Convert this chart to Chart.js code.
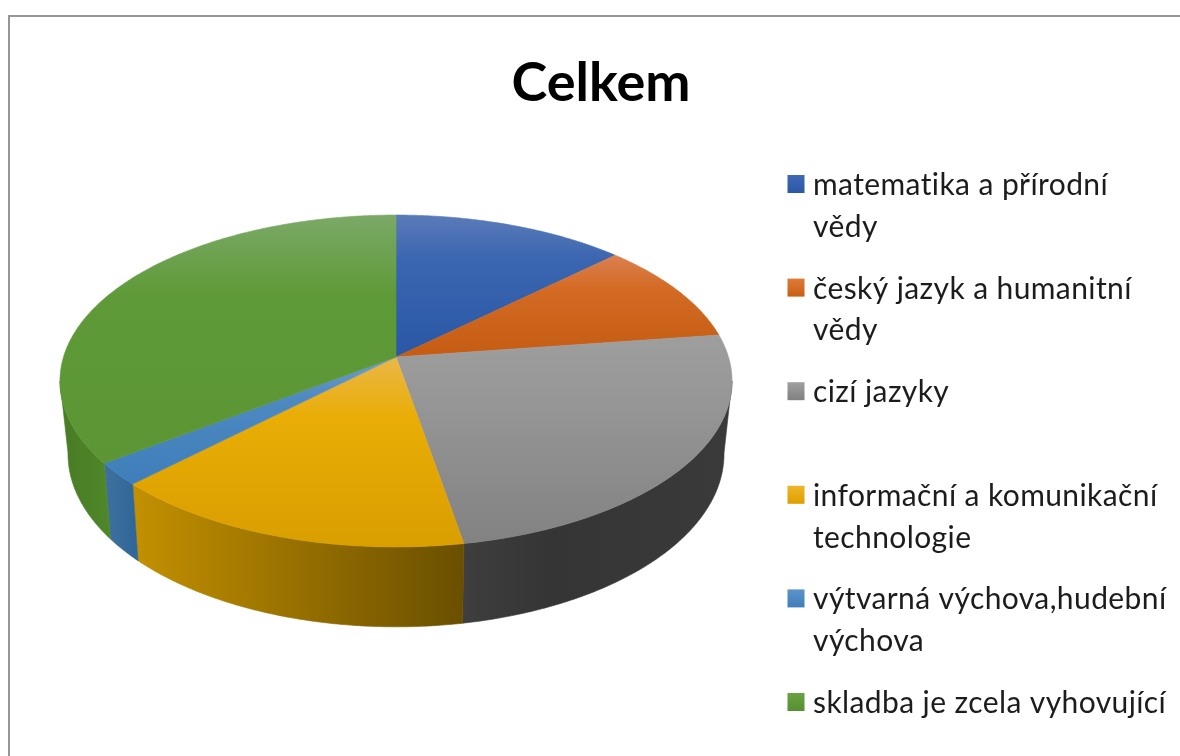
<!DOCTYPE html>
<html lang="cs">
<head>
<meta charset="utf-8">
<title>Celkem</title>
<script src="https://cdn.jsdelivr.net/npm/chart.js@4"></script>
<style>
html,body{margin:0;padding:0;background:#fff;width:1180px;height:756px;overflow:hidden}
#frame{position:absolute;left:8px;top:15px;width:1182px;height:760px;border-left:2px solid #969696;border-top:2px solid #969696;filter:blur(0.55px)}
canvas{display:block}
</style>
</head>
<body>
<div id="frame"><canvas id="c" width="1182" height="760"></canvas></div>
<script>
const titleText = "Celkem";
const categories = [
  ["matematika a přírodní", "vědy"],
  ["český jazyk a humanitní", "vědy"],
  ["cizí jazyky", ""],
  ["informační a komunikační", "technologie"],
  ["výtvarná výchova,hudební", "výchova"],
  ["skladba je zcela vyhovující"]
];
const values = [12.9, 9.9, 24.4, 15.4, 2.2, 35.2];
const topStops = [
  ["#5a7bb8", "#3a65b0", "#2a58a6"],
  ["#da8050", "#d46b25", "#c55c12"],
  ["#9e9e9e", "#969696", "#828282"],
  ["#ebb748", "#e9ad06", "#d99e00"],
  ["#6f9fcb", "#4e89c1", "#3e7eba"],
  ["#7ba967", "#5f9a38", "#5b9534"]
];
const wallStops = [
  ["#2a58a6", "#2a58a6"],
  ["#c55c12", "#c55c12"],
  ["#3e3e3e", "#353535", "#3a3a3a"],
  ["#c39000", "#6a4f00"],
  ["#3f719f", "#2e6697"],
  ["#497c25", "#4f8729"]
];
const swatchStops = [
  ["#3f68b4", "#2a58a6"],
  ["#de7a38", "#c85f14"],
  ["#a0a0a0", "#808080"],
  ["#efb526", "#dd9f00"],
  ["#5c94ca", "#3e7eba"],
  ["#6ba344", "#558f2f"]
];

// Perspective discs: page-space geometry of the 3D pie's top face and base
const TOP_FACE = {y: 357, k: 0.1446, a: 162.5, b: 332.5};
const BASE_FACE = {y: 428, k: 0.15, a: 169, b: 324.3};
const APEX_X = 396;
const FRONT_FROM = (90 + 8.3) * Math.PI / 180, FRONT_TO = (270 - 8.3) * Math.PI / 180;
const OFFSET = {x: 10, y: 17};

const facePoint = f => t => {
  const w = 1 + f.k * Math.cos(t);
  return [APEX_X + f.b * Math.sin(t) / w, f.y - f.a * Math.cos(t) / w];
};
const topPoint = facePoint(TOP_FACE), basePoint = facePoint(BASE_FACE);

function arcPts(fn, a, b) {
  const n = Math.max(2, Math.ceil(Math.abs(b - a) * 90)), p = [];
  for (let i = 0; i <= n; i++) p.push(fn(a + (b - a) * i / n));
  return p;
}
function fillPoly(ctx, pts, fill) {
  ctx.beginPath();
  pts.forEach((q, i) => i ? ctx.lineTo(q[0], q[1]) : ctx.moveTo(q[0], q[1]));
  ctx.closePath();
  ctx.fillStyle = fill; ctx.strokeStyle = fill; ctx.lineWidth = 0.6;
  ctx.fill(); ctx.stroke();
}
function grad(ctx, x0, y0, x1, y1, stops) {
  const g = ctx.createLinearGradient(x0, y0, x1, y1);
  if (stops.length === 3) { g.addColorStop(0, stops[0]); g.addColorStop(0.32, stops[1]); g.addColorStop(1, stops[2]); }
  else { g.addColorStop(0, stops[0]); g.addColorStop(1, stops[1]); }
  return g;
}

const pie3d = {
  id: "pie3d",
  beforeDatasetDraw(chart) {
    const ctx = chart.ctx, arcs = chart.getDatasetMeta(0).data;
    const ROT = Math.PI / 2; // library angles start at -90deg
    ctx.save();
    ctx.translate(-OFFSET.x, -OFFSET.y);
    arcs.forEach((arc, i) => {
      const s = arc.startAngle + ROT, e = arc.endAngle + ROT;
      const a = Math.max(s, FRONT_FROM), b = Math.min(e, FRONT_TO);
      if (b <= a) return;
      const up = arcPts(topPoint, a, b), low = arcPts(basePoint, a, b);
      const xs = up.concat(low).map(q => q[0]);
      fillPoly(ctx, up.concat(low.reverse()), grad(ctx, Math.min(...xs), 0, Math.max(...xs), 0, wallStops[i]));
    });
    arcs.forEach((arc, i) => {
      const s = arc.startAngle + ROT, e = arc.endAngle + ROT;
      const pts = [[APEX_X, TOP_FACE.y]].concat(arcPts(topPoint, s, e));
      const ys = pts.map(q => q[1]);
      fillPoly(ctx, pts, grad(ctx, 0, Math.min(...ys), 0, Math.max(...ys), topStops[i]));
    });
    ctx.restore();
    return false;
  },
  afterDraw(chart) {
    const ctx = chart.ctx;
    ctx.save();
    ctx.translate(-OFFSET.x, -OFFSET.y);
    ctx.textBaseline = "alphabetic";
    ctx.textAlign = "left";
    ctx.font = '30px Lato';
    ctx.letterSpacing = '0.4px';
    categories.forEach((lines, i) => {
      const base = 195 + 103.6 * i;
      const top = base - 20, size = 18;
      ctx.fillStyle = grad(ctx, 0, top, 0, top + size, swatchStops[i]);
      ctx.fillRect(787.5, top, 17, size);
      ctx.fillStyle = "#1c1c1c";
      lines.forEach((t, j) => ctx.fillText(t, 813, base + 41.7 * j));
    });
    ctx.restore();
  }
};

new Chart(document.getElementById("c"), {
  type: "pie",
  data: {
    labels: categories.map(l => l.join(" ").trim()),
    datasets: [{data: values, borderWidth: 0, backgroundColor: swatchStops.map(s => s[1])}]
  },
  options: {
    responsive: false,
    animation: false,
    plugins: {
      legend: {display: false},
      tooltip: {enabled: false},
      title: {
        display: true,
        text: titleText,
        color: "#000",
        font: {family: "Lato", size: 54, weight: "bold"},
        padding: {top: 34, bottom: 0}
      }
    }
  },
  plugins: [pie3d]
});
</script>
</body>
</html>
